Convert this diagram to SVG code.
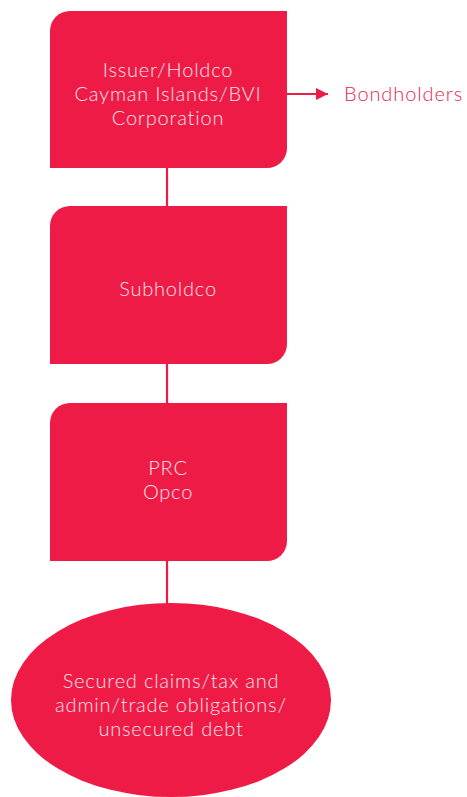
<svg xmlns="http://www.w3.org/2000/svg" width="467" height="797" viewBox="0 0 467 797">
<style>
.node{fill:#ee1b47;}
.t{font-family:Lato,"Noto Sans","DejaVu Sans",sans-serif;font-size:20px;letter-spacing:0.8px;fill:#fde4ea;text-anchor:middle;font-weight:300;}
.lbl{font-family:Lato,"Noto Sans","DejaVu Sans",sans-serif;font-size:20px;letter-spacing:0.9px;fill:#e8254f;font-weight:300;}
.c{stroke:#ee1b47;stroke-width:2.2;fill:none;}
</style>
<defs>
<marker id="ah" viewBox="0 0 10 10" refX="10" refY="5" markerWidth="13" markerHeight="12" markerUnits="userSpaceOnUse" orient="auto">
<path d="M0,0 L10,5 L0,10 Z" fill="#ee1b47"/>
</marker>
</defs>
<g id="connectors">
<line class="c" x1="167" y1="168" x2="167" y2="206"/>
<line class="c" x1="167" y1="364" x2="167" y2="403"/>
<line class="c" x1="167" y1="561" x2="167" y2="604"/>
<line class="c" x1="287" y1="94" x2="328" y2="94" marker-end="url(#ah)"/>
</g>
<g id="issuer">
<path class="node" d="M70,11 H287 V148 A20,20 0 0 1 267,168 H50 V31 A20,20 0 0 1 70,11 Z"/>
<text class="t" x="168" y="77">Issuer/Holdco</text>
<text class="t" x="168" y="101">Cayman Islands/BVI</text>
<text class="t" x="168" y="125">Corporation</text>
</g>
<g id="bondholders">
<text class="lbl" x="344" y="101">Bondholders</text>
</g>
<g id="subholdco">
<path class="node" d="M70,206 H287 V344 A20,20 0 0 1 267,364 H50 V226 A20,20 0 0 1 70,206 Z"/>
<text class="t" x="168" y="296">Subholdco</text>
</g>
<g id="opco">
<path class="node" d="M70,403 H287 V541 A20,20 0 0 1 267,561 H50 V423 A20,20 0 0 1 70,403 Z"/>
<text class="t" x="168" y="475">PRC</text>
<text class="t" x="168" y="499">Opco</text>
</g>
<g id="claims">
<ellipse class="node" cx="171" cy="700" rx="160" ry="97"/>
<text class="t" x="171" y="688">Secured claims/tax and</text>
<text class="t" x="171" y="712">admin/trade obligations/</text>
<text class="t" x="171" y="736">unsecured debt</text>
</g>
</svg>
